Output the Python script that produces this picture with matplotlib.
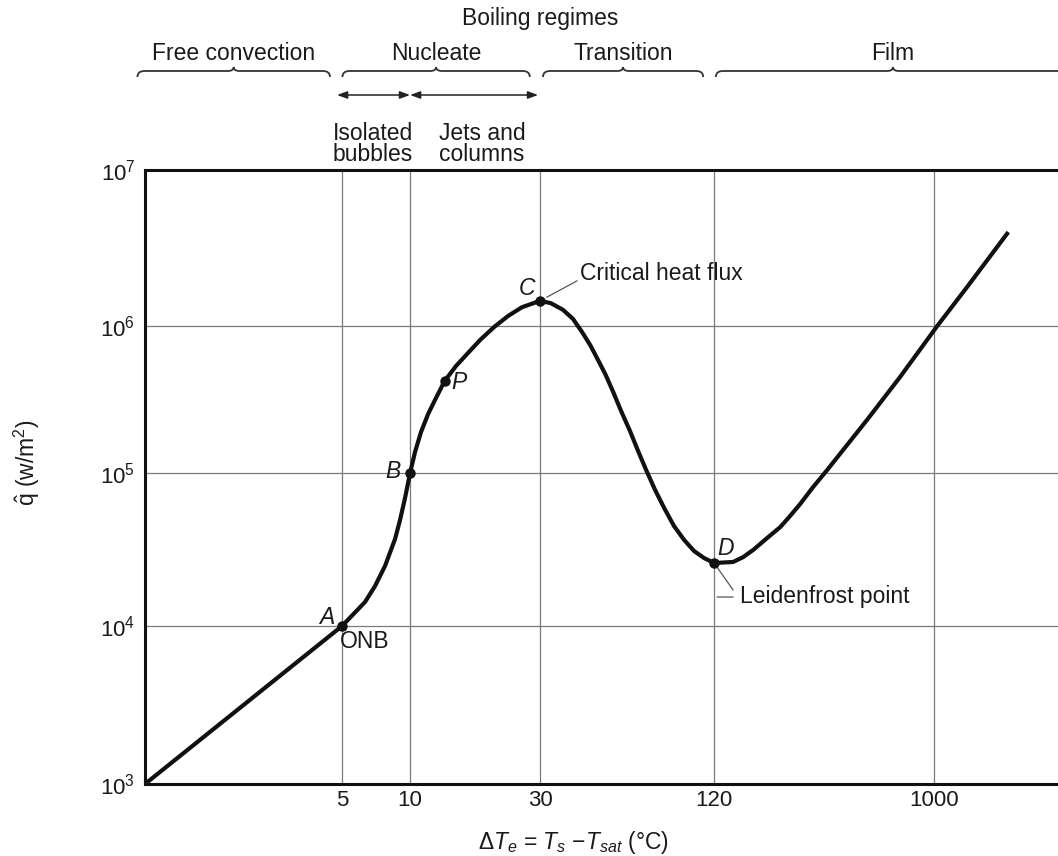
import numpy as np
import matplotlib
matplotlib.use("Agg")
import matplotlib.pyplot as plt
from matplotlib.path import Path
from matplotlib.patches import PathPatch
from matplotlib.transforms import blended_transform_factory
from matplotlib.text import OffsetFrom

# ---------------- data ----------------
delta_T = [1.0, 5.0, 6.32, 7.0, 7.75, 8.58, 9.03, 9.50, 10.0,
           10.43, 10.97, 11.65, 12.45, 13.4, 14.75, 16.19, 18.07, 20.34, 22.9, 25.76,
           30.0, 32.7, 36.0, 39.0, 41.9, 44.7, 47.2, 50.4, 53.7, 57.2, 61.4, 65.5,
           69.8, 75.0, 80.6, 87.2, 94.5, 102.3, 110.8,
           120.0, 130.9, 144.0, 158.7, 174.8, 200.0, 227.0, 249.6, 274.9, 311.5,
           357.0, 432.0, 524.0, 720.0, 1030.0, 1374.0, 2042.0]
q_flux = [1.0e3, 1.0e4, 1.435e4, 1.826e4, 2.47e4, 3.70e4, 4.93e4, 6.86e4, 1.0e5,
          1.39e5, 1.90e5, 2.52e5, 3.24e5, 4.23e5, 5.35e5, 6.45e5, 8.03e5, 9.84e5,
          1.16e6, 1.32e6,
          1.45e6, 1.40e6, 1.27e6, 1.11e6, 9.1e5, 7.43e5, 6.06e5, 4.72e5, 3.56e5,
          2.64e5, 1.93e5, 1.41e5, 1.05e5, 7.74e4, 5.91e4, 4.5e4, 3.65e4, 3.09e4,
          2.78e4,
          2.58e4, 2.6e4, 2.62e4, 2.82e4, 3.14e4, 3.76e4, 4.43e4, 5.24e4, 6.27e4,
          8.1e4, 1.05e5, 1.55e5, 2.3e5, 4.5e5, 1.0e6, 1.78e6, 4.0e6]

point_names = ["A", "B", "P", "C", "D"]
point_T = [5.0, 10.0, 13.4, 30.0, 120.0]
point_q = [1.0e4, 1.0e5, 4.23e5, 1.45e6, 2.58e4]

x_ticks = [5, 10, 30, 120, 1000]
x_ticklabels = ["5", "10", "30", "120", "1000"]
y_ticks = [1e3, 1e4, 1e5, 1e6, 1e7]
y_ticklabels = [r"$10^3$", r"$10^4$", r"$10^5$", r"$10^6$", r"$10^7$"]

regime_names = ["Free convection", "Nucleate", "Transition", "Film"]
regime_start = [0.94, 5.02, 30.7, 122.0]
regime_end = [4.53, 27.5, 110.0, 3700.0]

sub_regime_names = ["Isolated\nbubbles", "Jets and\ncolumns"]
sub_regime_start = [4.8, 10.0]
sub_regime_end = [10.0, 29.5]

# ---------------- schematic axis scales ----------------
X_LOG = np.array([-1.0, 0.0, np.log10(5), 1.0, np.log10(30), np.log10(120), 3.0, 5.0])
X_POS = np.array([-137.0, 145.0, 342.0, 410.0, 540.0, 714.0, 934.0, 1412.0])
Y_LOG = np.array([2.0, 3.0, 4.0, 5.0, 6.0, 7.0, 8.0])
Y_POS = np.array([-158.0, 0.0, 158.0, 311.0, 458.0, 614.0, 770.0])


def x_fwd(v):
    v = np.asarray(v, dtype=float)
    return np.interp(np.log10(np.clip(v, 1e-3, None)), X_LOG, X_POS)


def x_inv(p):
    return 10 ** np.interp(np.asarray(p, dtype=float), X_POS, X_LOG)


def y_fwd(v):
    v = np.asarray(v, dtype=float)
    return np.interp(np.log10(np.clip(v, 1e-3, None)), Y_LOG, Y_POS)


def y_inv(p):
    return 10 ** np.interp(np.asarray(p, dtype=float), Y_POS, Y_LOG)


plt.rcParams["font.family"] = ["Liberation Sans", "DejaVu Sans"]
plt.rcParams["mathtext.fontset"] = "custom"
plt.rcParams["mathtext.rm"] = "Liberation Sans"
plt.rcParams["mathtext.it"] = "Liberation Sans:italic"
plt.rcParams["mathtext.bf"] = "Liberation Sans:bold"

W, H = 1058, 856
fig = plt.figure(figsize=(W / 100, H / 100), dpi=100)
ax = fig.add_axes([145 / W, 72 / H, (1070 - 145) / W, 614 / H])
ax.set_xscale("function", functions=(x_fwd, x_inv))
ax.set_yscale("function", functions=(y_fwd, y_inv))
ax.set_xlim(1.0, 3700.0)
ax.set_ylim(1e3, 1e7)

TXT = "#1a1a1a"
FS = 16.5

ax.set_xticks(x_ticks)
ax.set_xticklabels(x_ticklabels)
ax.set_yticks(y_ticks)
ax.set_yticklabels(y_ticklabels)
ax.xaxis.set_minor_locator(matplotlib.ticker.NullLocator())
ax.yaxis.set_minor_locator(matplotlib.ticker.NullLocator())
ax.tick_params(axis="x", length=0, pad=4, labelsize=16, labelcolor=TXT)
ax.tick_params(axis="y", length=0, pad=7, labelsize=16, labelcolor=TXT)
ax.grid(True, color="#7a7a7a", lw=0.9)
ax.set_axisbelow(True)

for s in ["left", "top", "bottom"]:
    ax.spines[s].set_linewidth(2.2)
    ax.spines[s].set_color("#111111")
ax.spines["right"].set_visible(False)

# curve and points
ax.plot(delta_T, q_flux, color="#111111", lw=3.0, solid_joinstyle="round",
        solid_capstyle="butt", zorder=3, clip_on=False)
ax.plot(point_T, point_q, "o", color="#111111", ms=6.5, zorder=4, clip_on=False)

label_offsets = {"A": (-15, 8), "B": (-17, 2), "P": (14, -2), "C": (-13, 12), "D": (11, 15)}
for name, t, q in zip(point_names, point_T, point_q):
    ax.annotate(name, xy=(t, q), xytext=label_offsets[name], textcoords="offset pixels",
                ha="center", va="center", fontsize=FS, style="italic", color=TXT, zorder=5)

iA = point_names.index("A")
ax.annotate("ONB", xy=(point_T[iA], point_q[iA]), xytext=(-2, -15), textcoords="offset pixels",
            ha="left", va="center", fontsize=FS, color=TXT)

iC = point_names.index("C")
ax.annotate("Critical heat flux", xy=(point_T[iC], point_q[iC]), xytext=(40, 27),
            textcoords="offset pixels", ha="left", va="center", fontsize=FS, color=TXT)
ax.annotate("", xy=(point_T[iC], point_q[iC]), xytext=(37, 20), textcoords="offset pixels",
            arrowprops=dict(arrowstyle="-", color="#555555", lw=0.9, shrinkA=0, shrinkB=5.5))

iD = point_names.index("D")
ax.annotate("Leidenfrost point", xy=(point_T[iD], point_q[iD]), xytext=(26, -33),
            textcoords="offset pixels", ha="left", va="center", fontsize=FS, color=TXT)
ax.annotate("", xy=(point_T[iD], point_q[iD]), xytext=(19, -27), textcoords="offset pixels",
            arrowprops=dict(arrowstyle="-", color="#555555", lw=0.9, shrinkA=0, shrinkB=2))
offD = OffsetFrom(ax.transData, (point_T[iD], point_q[iD]), unit="pixels")
ax.annotate("", xy=(3, -34), xycoords=offD, xytext=(19, -34), textcoords=offD,
            arrowprops=dict(arrowstyle="-", color="#555555", lw=0.9, shrinkA=0, shrinkB=0))

# axis titles
fig.text(573 / W, 1 - 843 / H, r"$\Delta T_e$ = $T_s$ $-T_{sat}$ (°C)", ha="center", va="center",
         fontsize=FS, color=TXT)
fig.text(27 / W, 1 - 463 / H, r"$\hat{\mathrm{q}}$ (w/m$^2$)", rotation=90, ha="center",
         va="center", fontsize=FS, color=TXT)

# regime annotations above the plot
fig.text(540 / W, 1 - 19 / H, "Boiling regimes", ha="center", va="center", fontsize=FS, color=TXT)


def to_px(xv):
    return ax.transData.transform((xv, 1e3))[0]


def brace(x0, x1, ytop):
    Y = H - ytop
    xm = 0.5 * (x0 + x1)
    verts = [(x0, Y - 6), (x0, Y), (x0 + 7, Y),
             (xm - 6, Y), (xm, Y), (xm, Y + 4),
             (xm, Y), (xm + 6, Y),
             (x1 - 7, Y), (x1, Y), (x1, Y - 6)]
    codes = [Path.MOVETO, Path.CURVE3, Path.CURVE3,
             Path.LINETO, Path.CURVE3, Path.CURVE3,
             Path.CURVE3, Path.CURVE3,
             Path.LINETO, Path.CURVE3, Path.CURVE3]
    verts = [(vx / W, vy / H) for vx, vy in verts]
    patch = PathPatch(Path(verts, codes), fill=False, lw=1.3, edgecolor="#333333",
                      transform=fig.transFigure, clip_on=False)
    fig.add_artist(patch)
    return xm


for name, s, e in zip(regime_names, regime_start, regime_end):
    xs, xe = to_px(s), to_px(e)
    xm = brace(xs, xe, 71)
    fig.text(xm / W, 1 - 54 / H, name, ha="center", va="center", fontsize=FS, color=TXT)

blend = blended_transform_factory(ax.transData, fig.transFigure)
yarr = 1 - 95 / H
for s, e in zip(sub_regime_start, sub_regime_end):
    ax.annotate("", xy=(e, yarr), xycoords=blend, xytext=(s, yarr), textcoords=blend,
                arrowprops=dict(arrowstyle="<|-|>,head_length=0.6,head_width=0.22",
                                mutation_scale=10, color="#222222", lw=1.1,
                                shrinkA=0, shrinkB=0))

sub_text_x = [373, 482]
for name, xp in zip(sub_regime_names, sub_text_x):
    fig.text(xp / W, 1 - 144 / H, name, ha="center", va="center", fontsize=FS,
             color=TXT, linespacing=0.88)

fig.savefig("out.png", dpi=100)
